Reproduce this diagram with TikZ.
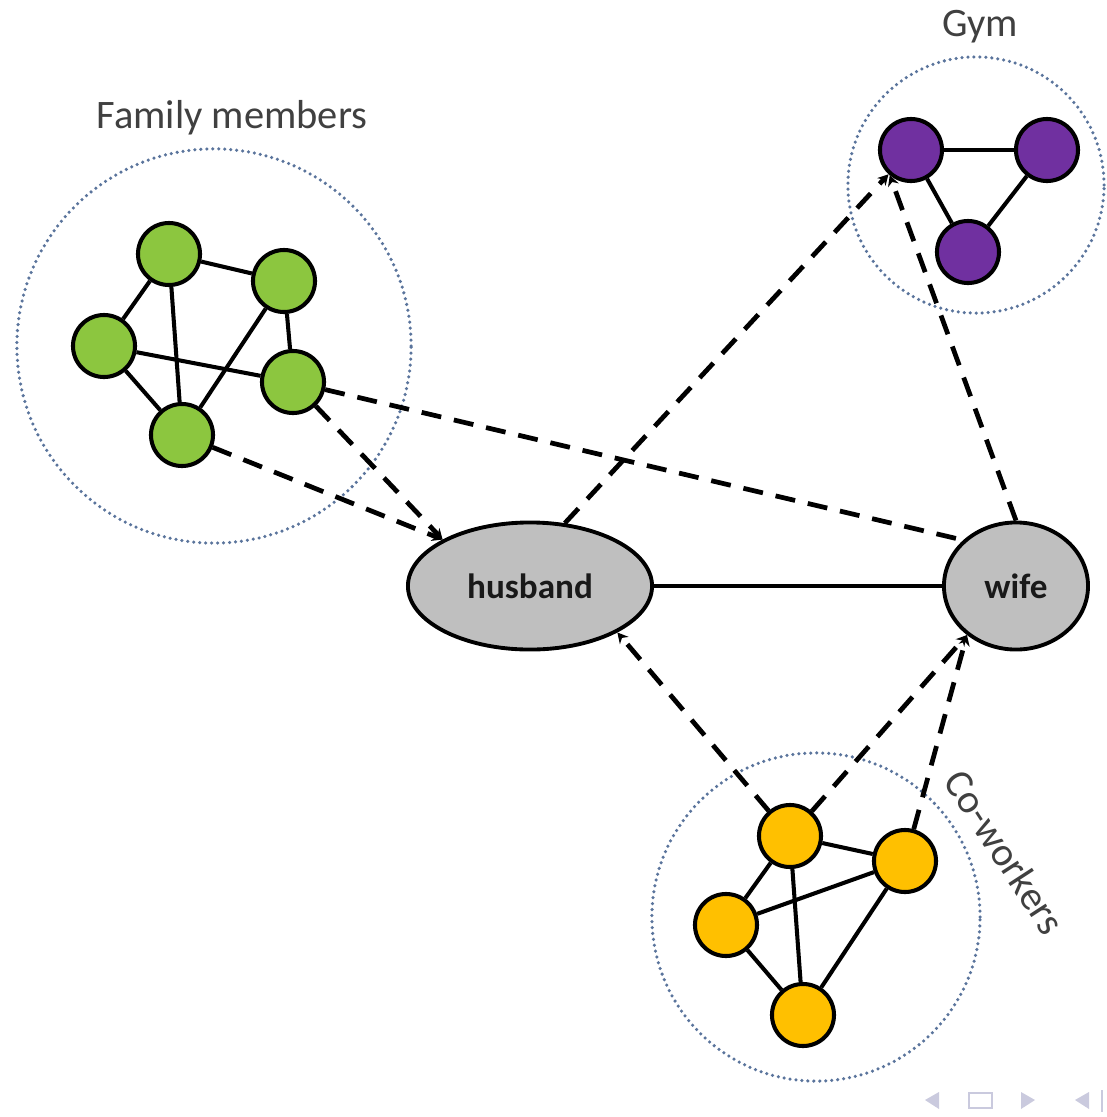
\documentclass[tikz,border=0pt]{standalone}
\usepackage{fontspec}
\setmainfont{Carlito}
\usetikzlibrary{arrows.meta,shapes.geometric}

\definecolor{famgreen}{RGB}{140,198,63}
\definecolor{gympurple}{RGB}{112,48,160}
\definecolor{cowgold}{RGB}{255,192,0}
\definecolor{spousegray}{RGB}{191,191,191}
\definecolor{ringblue}{RGB}{90,116,156}
\definecolor{labelgray}{RGB}{64,64,64}
\definecolor{navgray}{RGB}{202,202,222}

\begin{document}
\begin{tikzpicture}[x=0.01cm,y=-0.01cm,
  member/.style={circle,draw=black,line width=1.15pt,minimum size=0.62cm,inner sep=0pt},
  spousebox/.style={ellipse,draw=black,fill=spousegray,line width=1.1pt,inner sep=0pt,
                    text=black!90,font=\fontsize{10}{12}\selectfont\bfseries},
  tie/.style={line width=1.15pt},
  link/.style={line width=1.35pt,dash pattern=on 5.7pt off 3.7pt},
  linkto/.style={link,-{Stealth[length=3pt,width=3.2pt]}},
  groupring/.style={draw=ringblue,line width=1pt,dash pattern=on 0pt off 1.7pt,line cap=round},
  grouplabel/.style={text=labelgray,font=\fontsize{11.5}{14}\selectfont,inner sep=0pt},
  navmark/.style={fill=navgray,draw=none}
]
\fill[white] (0,0) rectangle (1107,1117);
\useasboundingbox (0,0) rectangle (1107,1117);

% group outlines
\draw[groupring] (214,346) circle[radius=1.97cm];
\draw[groupring] (976,185) circle[radius=1.28cm];
\draw[groupring] (816,917) circle[radius=1.64cm];

% group labels
\node[grouplabel] (famlabel) at (232,118) {Family members};
\node[grouplabel] (gymlabel) at (980,27) {Gym};
\node[grouplabel,rotate=-57] (cowlabel) at (1005,852) {Co-workers};

% family members
\node[member,fill=famgreen] (f1) at (169,254) {};
\node[member,fill=famgreen] (f2) at (284,281) {};
\node[member,fill=famgreen] (f3) at (104,346) {};
\node[member,fill=famgreen] (f4) at (293,382) {};
\node[member,fill=famgreen] (f5) at (182,435) {};

% gym
\node[member,fill=gympurple] (g1) at (911,150) {};
\node[member,fill=gympurple] (g2) at (1047,150) {};
\node[member,fill=gympurple] (g3) at (968,252) {};

% co-workers
\node[member,fill=cowgold] (c1) at (790,836) {};
\node[member,fill=cowgold] (c2) at (905,861) {};
\node[member,fill=cowgold] (c3) at (726,925) {};
\node[member,fill=cowgold] (c4) at (803,1015) {};

% couple
\node[spousebox,minimum width=2.44cm,minimum height=1.27cm] (husband) at (530,586) {husband};
\node[spousebox,minimum width=1.44cm,minimum height=1.27cm] (wife) at (1016,586) {wife};

% ties inside groups
\draw[tie] (f1) -- (f2);
\draw[tie] (f1) -- (f3);
\draw[tie] (f1) -- (f5);
\draw[tie] (f2) -- (f4);
\draw[tie] (f2) -- (f5);
\draw[tie] (f3) -- (f4);
\draw[tie] (f3) -- (f5);

\draw[tie] (g1) -- (g2);
\draw[tie] (g1) -- (g3);
\draw[tie] (g2) -- (g3);

\draw[tie] (c1) -- (c2);
\draw[tie] (c1) -- (c3);
\draw[tie] (c1) -- (c4);
\draw[tie] (c2) -- (c3);
\draw[tie] (c2) -- (c4);
\draw[tie] (c3) -- (c4);

\draw[tie] (husband) -- (wife);

% links to the couple
\draw[linkto] (f5) -- (husband.152);
\draw[linkto] (f4) -- (husband.152);
\draw[link] (f4) -- (wife.139);
\draw[linkto] (husband.61) -- (g1);
\draw[linkto] (wife.north) -- (g1.230);
\draw[linkto] (c1) -- (husband.-28);
\draw[linkto] (c1) -- (wife.225);
\draw[linkto] (c2) -- (wife.225);

% navigation marks
\fill[navmark] (925,1100) -- (939,1092) -- (939,1109) -- cycle;
\draw[navgray,line width=0.8pt] (969,1093) rectangle (992,1108);
\fill[navmark] (1021,1092) -- (1035,1100) -- (1021,1109) -- cycle;
\fill[navmark] (1075,1100) -- (1089,1092) -- (1089,1109) -- cycle;
\draw[navgray,line width=0.6pt] (1102,1090) -- (1102,1112);
\end{tikzpicture}
\end{document}
